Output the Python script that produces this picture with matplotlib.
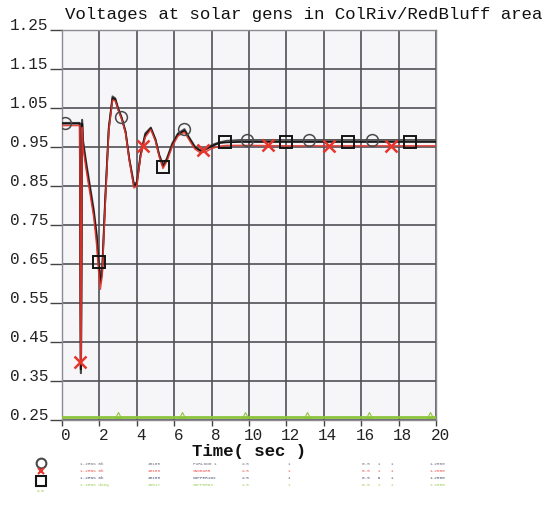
import matplotlib
matplotlib.use("Agg")
import matplotlib.pyplot as plt
from matplotlib.lines import Line2D
from matplotlib.transforms import ScaledTranslation

# ---------------- data ----------------
time = [0, 0.95, 1.0, 1.02, 1.08, 1.12, 1.3, 1.5, 1.7, 1.85, 1.95, 2.05, 2.15, 2.3,
        2.5, 2.7, 2.85, 3.0, 3.2, 3.4, 3.6, 3.85, 4.0, 4.2, 4.45, 4.75, 5.0, 5.2,
        5.4, 5.6, 5.9, 6.2, 6.55, 6.8, 7.1, 7.4, 7.7, 8.0, 8.4, 8.8, 9.5, 10, 12,
        14, 16, 18, 20]

v_circle = [1.012, 1.012, 0.37, 0.37, 1.02, 0.97, 0.91, 0.85, 0.79, 0.73, 0.67, 0.615,
            0.64, 0.81, 1.0, 1.08, 1.075, 1.05, 1.025, 0.99, 0.92, 0.855, 0.86, 0.93,
            0.985, 1.0, 0.97, 0.93, 0.905, 0.92, 0.96, 0.985, 0.996, 0.975, 0.952,
            0.942, 0.946, 0.955, 0.962, 0.966, 0.968, 0.968, 0.968, 0.968, 0.968,
            0.968, 0.968]

v_cross = [1.005, 1.005, 0.40, 0.40, 1.0, 0.95, 0.89, 0.83, 0.77, 0.70, 0.635, 0.585,
           0.62, 0.79, 0.99, 1.07, 1.068, 1.045, 1.02, 0.985, 0.915, 0.845, 0.85,
           0.925, 0.975, 0.995, 0.965, 0.925, 0.895, 0.912, 0.952, 0.978, 0.988,
           0.968, 0.945, 0.935, 0.938, 0.946, 0.952, 0.954, 0.954, 0.954, 0.953,
           0.953, 0.953, 0.953, 0.953]

v_square = [1.01, 1.01, 0.38, 0.38, 1.01, 0.96, 0.90, 0.84, 0.78, 0.72, 0.655, 0.60,
            0.63, 0.80, 0.995, 1.075, 1.072, 1.048, 1.022, 0.988, 0.918, 0.85, 0.856,
            0.928, 0.98, 0.998, 0.968, 0.928, 0.90, 0.916, 0.956, 0.982, 0.992,
            0.972, 0.949, 0.94, 0.944, 0.952, 0.96, 0.962, 0.963, 0.963, 0.963,
            0.963, 0.963, 0.963, 0.963]

v_green = [0.258, 0.258, 0.258, 0.258, 0.258, 0.258, 0.258, 0.258, 0.258, 0.258,
           0.258, 0.258, 0.258, 0.258, 0.258, 0.258, 0.258, 0.258, 0.258, 0.258,
           0.258, 0.258, 0.258, 0.258, 0.258, 0.258, 0.258, 0.258, 0.258, 0.258,
           0.258, 0.258, 0.258, 0.258, 0.258, 0.258, 0.258, 0.258, 0.258, 0.258,
           0.258, 0.258, 0.258, 0.258, 0.258, 0.258, 0.258]

circle_mark_t = [0.15, 3.15, 6.5, 9.9, 13.2, 16.6]
circle_mark_v = [1.012, 1.027, 0.995, 0.968, 0.968, 0.968]
cross_mark_t = [0.96, 4.35, 7.55, 11.0, 14.3, 17.6]
cross_mark_v = [0.40, 0.952, 0.942, 0.954, 0.953, 0.953]
square_mark_t = [2.0, 5.4, 8.7, 12.0, 15.3, 18.6]
square_mark_v = [0.655, 0.90, 0.962, 0.963, 0.963, 0.963]
green_mark_t = [3.0, 6.4, 9.8, 13.1, 16.4, 19.7]
green_mark_v = [0.262, 0.262, 0.262, 0.262, 0.262, 0.262]

x_ticks = [0, 2, 4, 6, 8, 10, 12, 14, 16, 18, 20]
y_ticks = [0.25, 0.35, 0.45, 0.55, 0.65, 0.75, 0.85, 0.95, 1.05, 1.15, 1.25]
y_tick_labels = ["0.25", "0.35", "0.45", "0.55", "0.65", "0.75", "0.85", "0.95",
                 "1.05", "1.15", "1.25"]

title = "Voltages at solar gens in ColRiv/RedBluff area"
xlabel = "Time( sec )"

legend_rows = [
    ["1.2RNS 0k", "48108", "FURLONG 1", "2.5", "1", "0.5   1    1", "1.2500"],
    ["1.2RNS 0k", "48158", "SNDBAR5", "2.5", "1", "0.5   1    1", "1.2500"],
    ["1.2RNS 0k", "48158", "COPPER1G2", "2.5", "1", "0.5   N    1", "1.2500"],
    ["1.2RNS dang", "48517", "COPPERG3", "2.5", "1", "0.5   1    1", "1.2500"],
]

# ---------------- styling ----------------
c_circle = "#4a4a4a"
c_cross = "#e8352c"
c_square = "#141414"
c_green = "#8cc43c"
mono = "Liberation Mono"

fig = plt.figure(figsize=(5.48, 5.12), dpi=100)
fig.patch.set_facecolor("white")
ax = fig.add_axes([62 / 548, 1 - 420 / 512, 374 / 548, 390 / 512])
ax.set_facecolor("#f6f6f9")

ax.plot(time, v_green, color=c_green, lw=2.0, zorder=3)
ax.plot(green_mark_t, green_mark_v, ls="none", marker="^", ms=5, mfc="none",
        mec=c_green, mew=0.8, zorder=3)
ax.plot(time, v_circle, color=c_circle, lw=1.3, zorder=4)
ax.plot(time, v_square, color=c_square, lw=1.3, zorder=5)
ax.plot(time, v_cross, color=c_cross, lw=1.1, zorder=6, alpha=0.9)

ax.plot(circle_mark_t, circle_mark_v, ls="none", marker="o", ms=8.5, mfc="none",
        mec=c_circle, mew=1.1, zorder=7)
ax.plot(cross_mark_t, cross_mark_v, ls="none", marker="x", ms=8, mec=c_cross,
        mew=1.8, zorder=7)
ax.plot(square_mark_t, square_mark_v, ls="none", marker="s", ms=8.5, mfc="none",
        mec=c_square, mew=1.4, zorder=7)

ax.set_xlim(0, 20)
ax.set_ylim(0.25, 1.25)
ax.set_xticks(x_ticks)
ax.set_yticks(y_ticks)
ax.set_yticklabels(y_tick_labels)
ax.grid(True, color="#505058", lw=1.2)
ax.set_axisbelow(True)
for s in ax.spines.values():
    s.set_color("#8a8a90")
    s.set_linewidth(1.0)
ax.tick_params(axis="y", direction="out", length=9, width=1.0, color="#444444",
               labelsize=11.5, pad=1)
ax.tick_params(axis="x", direction="out", length=4, width=1.0, color="#444444",
               labelsize=11.5, pad=2)
x_off = ScaledTranslation(4 / 100, 0, fig.dpi_scale_trans)
for lab in ax.get_xticklabels():
    lab.set_fontfamily(mono)
    lab.set_color("#222222")
    lab.set_transform(lab.get_transform() + x_off)
for lab in ax.get_yticklabels():
    lab.set_fontfamily(mono)
    lab.set_color("#222222")
    lab.set_verticalalignment("baseline")

ax.set_xlabel(xlabel, fontfamily=mono, fontsize=12.5, fontweight="bold",
              color="#111111", labelpad=0.5)

fig.text(65 / 548, 1 - 15 / 512, title, fontfamily=mono, fontsize=12.5,
         color="#111111", va="center", ha="left")

# ---------------- legend block ----------------
row_colors = ["#555566", c_cross, "#223355", c_green]
row_y = [464, 471, 478, 485]
col_x = [80, 148, 193, 242, 288, 362, 430]
for r, row in enumerate(legend_rows):
    for c, txt in enumerate(row):
        fig.text(col_x[c] / 548, 1 - row_y[r] / 512, txt, fontfamily=mono,
                 fontsize=3.2, color=row_colors[r], va="center", ha="left",
                 alpha=0.85)

leg_markers = [("o", c_circle, 463), ("x", c_cross, 471), ("s", c_square, 481)]
for m, col, yy in leg_markers:
    fig.add_artist(Line2D([41 / 548], [1 - yy / 512], marker=m, ls="none",
                          ms=7 if m != "x" else 5, mfc="none", mec=col, mew=1.5,
                          transform=fig.transFigure))
fig.text(41 / 548, 1 - 491 / 512, "2.5", fontfamily=mono, fontsize=3.2,
         color=c_green, ha="center", va="center")

fig.savefig("out.png", dpi=100)
